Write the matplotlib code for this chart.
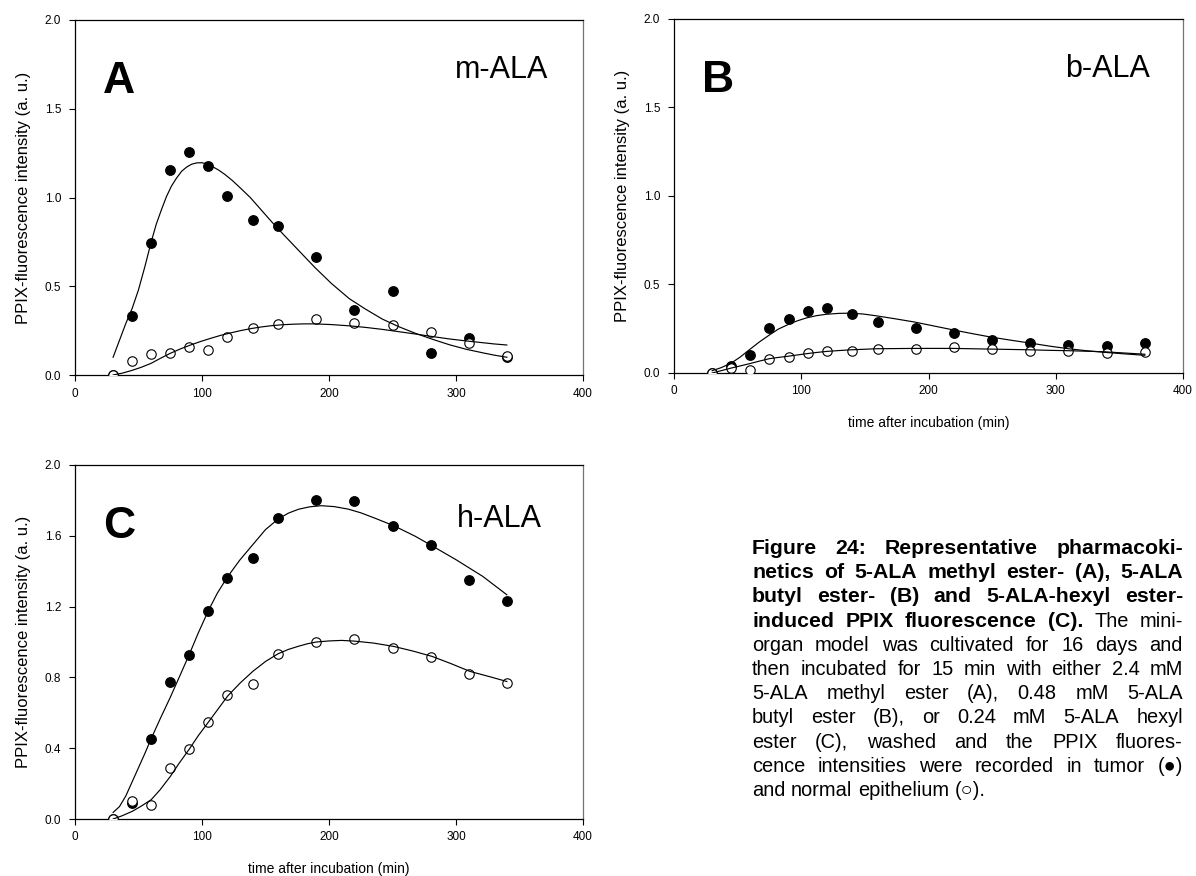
import numpy as np
import matplotlib
matplotlib.use("Agg")
import matplotlib.pyplot as plt

plt.rcParams['font.family'] = ['Liberation Sans', 'DejaVu Sans']

# Tempos de medição (min)
t_ac = [30, 45, 60, 75, 90, 105, 120, 140, 160, 190, 220, 250, 280, 310, 340]
t_b = [30, 45, 60, 75, 90, 105, 120, 140, 160, 190, 220, 250, 280, 310, 340, 370]

# m-ALA: tumor (cheio) e epitélio normal (vazio)
a_tumor = [0.0, 0.33, 0.745, 1.157, 1.258, 1.176, 1.007, 0.871, 0.839, 0.667, 0.365, 0.472, 0.122, 0.206, 0.10]
a_normal = [0.0, 0.079, 0.12, 0.125, 0.155, 0.142, 0.212, 0.262, 0.287, 0.313, 0.294, 0.281, 0.243, 0.182, 0.107]

# b-ALA
b_tumor = [0.0, 0.04, 0.10, 0.252, 0.305, 0.35, 0.369, 0.331, 0.29, 0.254, 0.226, 0.186, 0.169, 0.158, 0.15, 0.167]
b_normal = [0.0, 0.03, 0.015, 0.081, 0.09, 0.115, 0.126, 0.124, 0.137, 0.135, 0.145, 0.135, 0.126, 0.122, 0.115, 0.117]

# h-ALA
c_tumor = [0.0, 0.092, 0.452, 0.772, 0.928, 1.175, 1.362, 1.473, 1.702, 1.802, 1.797, 1.655, 1.546, 1.348, 1.230]
c_normal = [0.0, 0.10, 0.079, 0.286, 0.394, 0.546, 0.70, 0.763, 0.932, 0.998, 1.017, 0.964, 0.913, 0.819, 0.770]

# Curvas ajustadas (pontos lidos ao longo das curvas)
a_fit_t_x = [30, 35, 40, 45, 50, 55, 60, 64, 68, 72, 76, 80, 84, 88, 92, 96, 100, 104, 108, 113, 118, 124, 130,
             138, 146, 155, 165, 177, 189, 202, 216, 229, 242, 255, 268, 282, 295, 308, 321, 330, 340]
a_fit_t_y = [0.10, 0.195, 0.29, 0.375, 0.48, 0.61, 0.75, 0.85, 0.93, 1.005, 1.065, 1.11, 1.148, 1.172, 1.188,
             1.195, 1.196, 1.188, 1.175, 1.155, 1.13, 1.095, 1.055, 1.0, 0.935, 0.862, 0.785, 0.695, 0.605,
             0.515, 0.43, 0.37, 0.315, 0.272, 0.235, 0.20, 0.17, 0.145, 0.125, 0.112, 0.10]
a_fit_n_x = [30, 37, 44, 52, 60, 67, 75, 83, 91, 99, 107, 115, 123, 131, 139, 147, 155, 163, 171, 180, 189,
             202, 216, 229, 242, 255, 268, 282, 295, 308, 321, 330, 340]
a_fit_n_y = [0.0, 0.01, 0.024, 0.043, 0.066, 0.093, 0.122, 0.147, 0.169, 0.189, 0.207, 0.224, 0.238, 0.251,
             0.262, 0.271, 0.278, 0.283, 0.286, 0.288, 0.288, 0.284, 0.277, 0.268, 0.257, 0.244, 0.231, 0.216,
             0.203, 0.192, 0.182, 0.175, 0.169]

b_fit_x = [30, 37, 45, 52, 59, 67, 75, 82, 90, 97, 104, 112, 120, 130, 139, 149, 159, 174, 189, 204, 219, 234,
           249, 265, 280, 295, 310, 324, 338, 354, 370]
b_fit_t_y = [0.013, 0.03, 0.056, 0.09, 0.13, 0.175, 0.215, 0.248, 0.275, 0.295, 0.311, 0.324, 0.332, 0.337,
             0.338, 0.333, 0.323, 0.306, 0.288, 0.266, 0.244, 0.223, 0.203, 0.185, 0.169, 0.152, 0.137, 0.126,
             0.117, 0.108, 0.10]
b_fit_n_y = [0.0, 0.013, 0.028, 0.04, 0.052, 0.067, 0.081, 0.088, 0.095, 0.102, 0.109, 0.116, 0.122, 0.127,
             0.131, 0.134, 0.137, 0.138, 0.139, 0.139, 0.139, 0.137, 0.135, 0.133, 0.131, 0.128, 0.126, 0.123,
             0.12, 0.113, 0.106]

c_fit_t_x = [30, 35, 40, 45, 50, 55, 60, 67, 75, 82, 90, 97, 105, 112, 120, 130, 140, 150, 160, 168, 176, 185,
             194, 204, 215, 225, 236, 251, 268, 281, 300, 321, 340]
c_fit_t_y = [0.037, 0.07, 0.13, 0.21, 0.29, 0.37, 0.454, 0.565, 0.687, 0.80, 0.93, 1.05, 1.177, 1.275, 1.367,
             1.465, 1.55, 1.635, 1.695, 1.728, 1.75, 1.764, 1.77, 1.765, 1.751, 1.73, 1.70, 1.657, 1.597, 1.544,
             1.465, 1.371, 1.267]
c_fit_n_x = [30, 37, 45, 52, 60, 67, 75, 82, 90, 97, 105, 112, 120, 130, 140, 150, 160, 168, 176, 183, 190,
             200, 210, 220, 235, 251, 266, 281, 296, 311, 326, 340]
c_fit_n_y = [0.0, 0.018, 0.043, 0.072, 0.109, 0.165, 0.24, 0.315, 0.395, 0.47, 0.547, 0.615, 0.693, 0.768,
             0.834, 0.89, 0.934, 0.958, 0.976, 0.99, 1.0, 1.006, 1.009, 1.005, 0.994, 0.975, 0.949, 0.919,
             0.878, 0.834, 0.805, 0.777]

W, H = 1196, 876
fig = plt.figure(figsize=(W / 100, H / 100), dpi=100)


def painel(rect, t, tumor, normal, fit_t, fit_n, yticks, letra, nome, nome_xy, xlabel=False):
    ax = fig.add_axes(rect)
    ax.plot(t, tumor, 'o', ms=6.8, mfc='black', mec='black', zorder=2)
    ax.plot(t, normal, 'o', ms=6.8, mfc='white', mec='black', mew=0.8, zorder=3)
    ax.plot(fit_t[0], fit_t[1], color='black', lw=0.85, zorder=4)
    ax.plot(fit_n[0], fit_n[1], color='black', lw=0.85, zorder=4)
    ax.set_xlim(0, 400)
    ax.set_ylim(0, 2.0)
    ax.set_xticks([0, 100, 200, 300, 400])
    ax.set_yticks(yticks)
    ax.set_yticklabels(['%.1f' % v for v in yticks])
    ax.tick_params(direction='out', length=4, width=0.8, labelsize=8.5)
    ax.tick_params(axis='y', pad=6)
    ax.tick_params(axis='x', pad=5)
    for s in ax.spines.values():
        s.set_linewidth(0.9)
    ax.spines['right'].set_color('0.45')
    ax.set_ylabel('PPIX-fluorescence intensity (a. u.)', fontsize=12, labelpad=10)
    if xlabel:
        ax.set_xlabel('time after incubation (min)', fontsize=10, labelpad=13.5)
    ax.text(0.055, 0.795, letra, transform=ax.transAxes, fontsize=32, fontweight='bold',
            ha='left', va='baseline')
    ax.text(nome_xy[0], nome_xy[1], nome, transform=ax.transAxes, fontsize=22, ha='right', va='baseline')
    return ax


painel([75 / W, 1 - 375 / H, 508 / W, 355 / H], t_ac, a_tumor, a_normal,
       (a_fit_t_x, a_fit_t_y), (a_fit_n_x, a_fit_n_y), [0.0, 0.5, 1.0, 1.5, 2.0], 'A', 'm-ALA', (0.931, 0.837))
painel([674 / W, 1 - 373 / H, 509 / W, 354 / H], t_b, b_tumor, b_normal,
       (b_fit_x, b_fit_t_y), (b_fit_x, b_fit_n_y), [0.0, 0.5, 1.0, 1.5, 2.0], 'B', 'b-ALA', (0.935, 0.836),
       xlabel=True)
painel([75 / W, 1 - 819 / H, 508 / W, 354 / H], t_ac, c_tumor, c_normal,
       (c_fit_t_x, c_fit_t_y), (c_fit_n_x, c_fit_n_y), [0.0, 0.4, 0.8, 1.2, 1.6, 2.0], 'C', 'h-ALA',
       (0.92, 0.825), xlabel=True)

# Legenda da figura, justificada linha a linha
legenda = [
    [('Figure 24: Representative pharmacoki-', 'bold')],
    [('netics of 5-ALA methyl ester- (A), 5-ALA', 'bold')],
    [('butyl ester- (B) and 5-ALA-hexyl ester-', 'bold')],
    [('induced PPIX fluorescence (C).', 'bold'), ('The mini-', 'normal')],
    [('organ model was cultivated for 16 days and', 'normal')],
    [('then incubated for 15 min with either 2.4 mM', 'normal')],
    [('5-ALA methyl ester (A), 0.48 mM 5-ALA', 'normal')],
    [('butyl ester (B), or 0.24 mM 5-ALA hexyl', 'normal')],
    [('ester (C), washed and the PPIX fluores-', 'normal')],
    [('cence intensities were recorded in tumor (\u25cf)', 'normal')],
    [('and normal epithelium (\u25cb).', 'normal')],
]
tam = {'bold': 15.3, 'normal': 14.4}

x_esq, x_dir = 752, 1183
fig.canvas.draw()
r = fig.canvas.get_renderer()
t1 = fig.text(0, 0, 'a a', fontsize=tam['normal'])
t2 = fig.text(0, 0, 'aa', fontsize=tam['normal'])
espaco = t1.get_window_extent(r).width - t2.get_window_extent(r).width
t1.remove()
t2.remove()

for i, linha in enumerate(legenda):
    y = 1 - (554 + i * 24.2) / H
    palavras = []
    for trecho, peso in linha:
        for p in trecho.split():
            palavras.append(fig.text(0, y, p, fontsize=tam[peso], fontweight=peso, va='baseline', ha='left'))
    larg = [p.get_window_extent(r).width for p in palavras]
    if i == len(legenda) - 1:
        gap = espaco
    else:
        gap = (x_dir - x_esq - sum(larg)) / (len(palavras) - 1)
    x = x_esq
    for p, w in zip(palavras, larg):
        p.set_x(x / W)
        x += w + gap

fig.savefig('out.png', dpi=100)
